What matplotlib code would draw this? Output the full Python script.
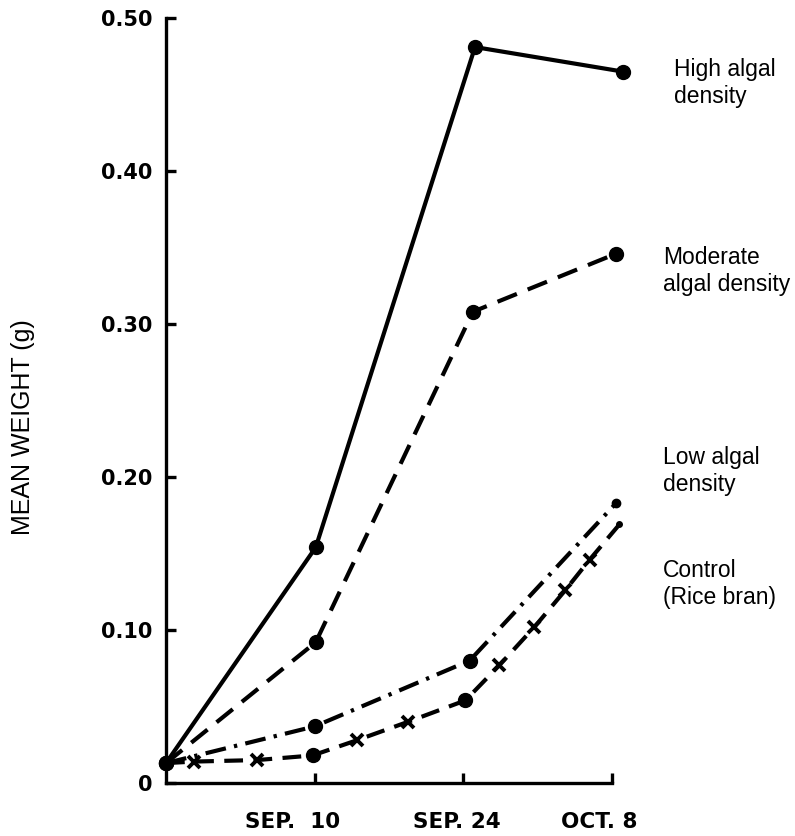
import matplotlib.pyplot as plt
from matplotlib.transforms import ScaledTranslation

# time axis in days after Aug 27 (the origin of the plot)
tick_days = [14, 28, 42]
tick_labels = ["SEP.  10", "SEP. 24", "OCT. 8"]
y_ticks = [0, 0.10, 0.20, 0.30, 0.40, 0.50]
y_tick_labels = ["0", "0.10", "0.20", "0.30", "0.40", "0.50"]

# mean weight (g)
high_x = [0, 14.1, 29.1, 43.0]
high_y = [0.013, 0.154, 0.481, 0.465]
mod_x = [0, 14.1, 28.9, 42.4]
mod_y = [0.013, 0.092, 0.308, 0.346]
low_x = [0, 14.0, 28.6, 42.4]
low_y = [0.013, 0.037, 0.080, 0.183]
ctrl_x = [0, 2.6, 8.6, 13.8, 18.0, 22.8, 28.2, 31.4, 34.7, 37.6, 39.9, 42.7]
ctrl_y = [0.013, 0.014, 0.015, 0.018, 0.028, 0.040, 0.054, 0.077, 0.102, 0.126, 0.146, 0.169]
ctrl_circles = [3, 6]  # sampling dates drawn as dots, the rest as crosses

labels = ["High algal\ndensity", "Moderate\nalgal density", "Low algal\ndensity", "Control\n(Rice bran)"]

W, H = 795, 836
fig = plt.figure(figsize=(W / 100, H / 100), dpi=100)
ax = fig.add_axes([166 / W, 1 - 783 / H, (612 - 166) / W, (783 - 18) / H])

lw = 3.0
ax.plot(high_x, high_y, color="black", lw=lw, marker="o", ms=10, clip_on=False, zorder=3)
ax.plot(mod_x, mod_y, color="black", lw=lw, dashes=(5, 2.8), marker="o", ms=10,
        clip_on=False, zorder=3)
ax.plot(low_x[:-1], low_y[:-1], color="black", lw=0, marker="o", ms=10, clip_on=False, zorder=3)
ax.plot(low_x, low_y, color="black", lw=lw, dashes=(5, 2, 0.8, 2), clip_on=False, zorder=2)
ax.plot(low_x[-1:], low_y[-1:], color="black", lw=0, marker="o", ms=6, clip_on=False, zorder=3)

ax.plot(ctrl_x, ctrl_y, color="black", lw=lw, dashes=(4.5, 2.5), clip_on=False, zorder=2)
cx = [ctrl_x[i] for i in ctrl_circles]
cy = [ctrl_y[i] for i in ctrl_circles]
ax.plot(cx, cy, color="black", lw=0, marker="o", ms=10, clip_on=False, zorder=3)
mid = [i for i in range(1, len(ctrl_x) - 1) if i not in ctrl_circles]
ax.plot([ctrl_x[i] for i in mid], [ctrl_y[i] for i in mid], color="black", lw=0,
        marker="x", ms=8, mew=2.8, clip_on=False, zorder=3)
ax.plot(ctrl_x[-1:], ctrl_y[-1:], color="black", lw=0, marker="o", ms=4, clip_on=False, zorder=3)

ax.set_xlim(0, 42)
ax.set_ylim(0, 0.5)
for s in ["top", "right"]:
    ax.spines[s].set_visible(False)
for s in ["left", "bottom"]:
    ax.spines[s].set_linewidth(2.4)

ax.set_yticks(y_ticks)
ax.set_yticklabels(y_tick_labels, fontsize=15, fontweight="bold", family="DejaVu Sans")
ax.set_xticks(tick_days)
ax.set_xticklabels(tick_labels, fontsize=15.5, fontweight="bold", family="DejaVu Sans")
ax.tick_params(axis="both", direction="in", length=7, width=2.4)
ax.tick_params(axis="y", pad=10)
ax.tick_params(axis="x", pad=21)

# the hand-lettered dates sit a bit left of their ticks
shifts = [-22, -7, -13]
for lab, dx in zip(ax.get_xticklabels(), shifts):
    lab.set_transform(lab.get_transform() + ScaledTranslation(dx / 100, 0, fig.dpi_scale_trans))

fig.text(23 / W, 1 - 427 / H, "MEAN WEIGHT (g)", rotation=90, ha="center", va="center",
         fontsize=18, family="Liberation Sans")

label_pos = [(674, 58), (663, 246), (663, 446), (663, 559)]
for txt, (px, py) in zip(labels, label_pos):
    fig.text(px / W, 1 - py / H, txt, ha="left", va="top", fontsize=16.5,
             family="Liberation Sans", linespacing=1.2)

fig.savefig("out.png", dpi=100)
